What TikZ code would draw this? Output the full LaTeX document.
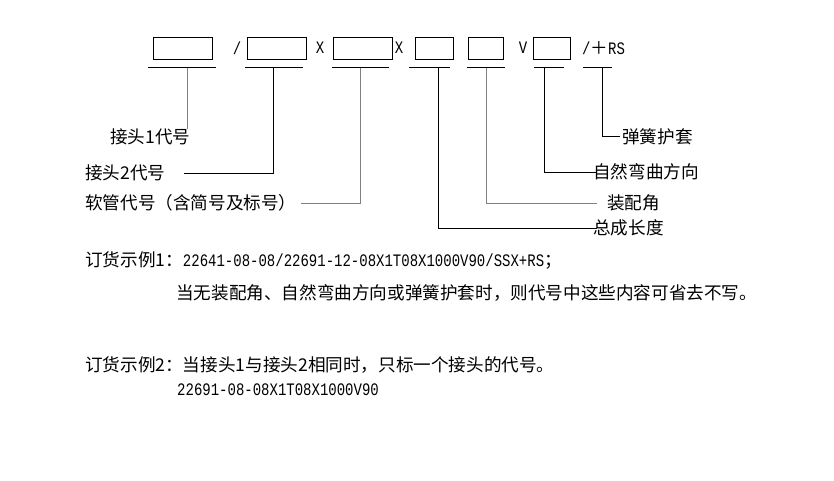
\documentclass[tikz,border=0pt]{standalone}
\usepackage{fontspec}
\setmainfont{Noto Sans CJK SC}
\newfontfamily\codefont[FakeStretch=0.8]{Liberation Mono}
\newcommand\codetxt[1]{{\codefont\fontsize{17.5}{20}\selectfont #1}}
\begin{document}
\begin{tikzpicture}[x=1pt,y=-1pt,
		box/.style={draw,line width=0.8pt,minimum height=22pt,inner sep=0pt},
		lab/.style={anchor=west,inner sep=0pt,font=\fontsize{17.6}{20}\selectfont},
		sepmark/.style={inner sep=0pt,font=\codefont\fontsize{17.5}{20}\selectfont},
		leg/.style={line width=1pt},
		grayleg/.style={line width=1pt,draw=gray}]
				\useasboundingbox (0,0) rectangle (834,481);
				\node[box,minimum width=59pt] (b1) at (182.5,48) {};
				\node[box,minimum width=59pt] (b2) at (276.5,48) {};
				\node[box,minimum width=59pt] (b3) at (362.5,48) {};
				\node[box,minimum width=38pt] (b4) at (434,48) {};
				\node[box,minimum width=35pt] (b5) at (485.5,48) {};
				\node[box,minimum width=37pt] (b6) at (551.5,48) {};
				\node[sepmark] (s1) at (237,48) {/};
				\node[sepmark] (s2) at (320,48) {X};
				\node[sepmark] (s3) at (399,48) {X};
				\node[sepmark] (s4) at (523,48) {V};
				\node[sepmark,anchor=west] (s5) at (582,48) {/{\fontspec{Noto Sans CJK SC}\fontsize{17.6}{20}\selectfont ＋}RS};
				\foreach \n/\l/\r/\s in {1/148/216/187,2/245/303/273,3/332/389/360,4/409/450/438,5/467/505/486,6/534/564/544,7/583/612/602}{
					\draw[leg] (\l,68) -- (\r,68);
					\coordinate (u\n) at (\s,68);
				}
				\node[lab] (l1) at (110,137) {接头1代号};
				\node[lab] (l2) at (85,173) {接头2代号};
				\node[lab] (l3) at (85,203) {软管代号（含简号及标号）};
				\node[lab] (l4) at (593,228) {总成长度};
				\node[lab] (l5) at (607,203) {装配角};
				\node[lab] (l6) at (593,172) {自然弯曲方向};
				\node[lab] (l7) at (622,137) {弹簧护套};
				\draw[grayleg] (u1) -- (u1 |- l1.north);
				\draw[leg] (u2) |- ([xshift=18pt]l2.east);
				\draw[grayleg] (u3) |- ([xshift=4pt]l3.east);
				\draw[leg] (u4) |- ([xshift=4pt]l4.west);
				\draw[grayleg] (u5) |- ([xshift=-10pt]l5.west);
				\draw[leg] (u6) |- ([xshift=4pt]l6.west);
				\draw[leg] (u7) |- ([xshift=-2pt]l7.west);
				\node[lab] (e1) at (85,260) {订货示例1：\codetxt{22641-08-08/22691-12-08X1T08X1000V90/SSX+RS}；};
				\node[lab] (e1b) at (176,293) {当无装配角、自然弯曲方向或弹簧护套时，则代号中这些内容可省去不写。};
				\node[lab] (e2) at (85,365) {订货示例2：当接头1与接头2相同时，只标一个接头的代号。};
				\node[lab] (e2b) at (177,390) {\codetxt{22691-08-08X1T08X1000V90}};
		\end{tikzpicture}
\end{document}
